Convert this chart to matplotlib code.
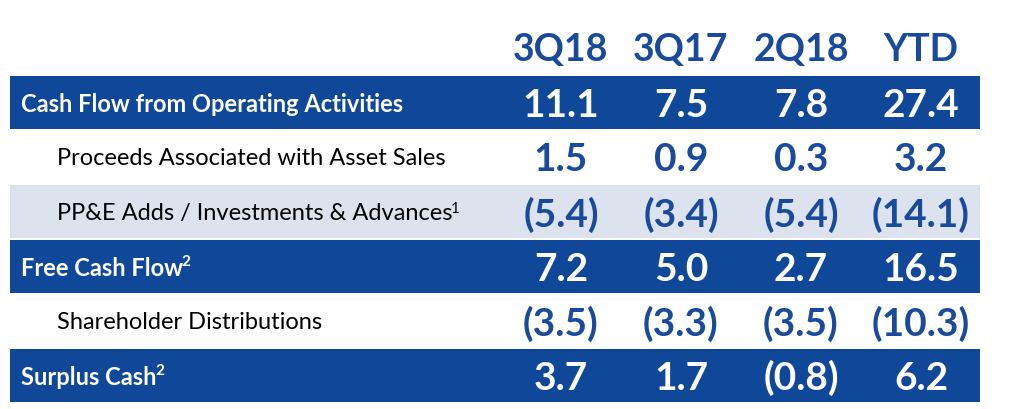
import matplotlib
matplotlib.use('Agg')
import matplotlib.pyplot as plt
from matplotlib.patches import Rectangle

DARK_BLUE = '#0F4799'
LIGHT_ROW = '#DCE3EF'
TEXT_BLUE = '#1A4A9C'

columns = ['3Q18', '3Q17', '2Q18', 'YTD']
row_labels = ['Cash Flow from Operating Activities',
              'Proceeds Associated with Asset Sales',
              'PP&E Adds / Investments & Advances',
              'Free Cash Flow',
              'Shareholder Distributions',
              'Surplus Cash']
footnotes = ['', '', '1', '2', '', '2']
row_styles = ['band', 'plain', 'light', 'band', 'plain', 'band']
cash_flow_ops = ['11.1', '7.5', '7.8', '27.4']
asset_sales = ['1.5', '0.9', '0.3', '3.2']
ppe_adds = ['(5.4)', '(3.4)', '(5.4)', '(14.1)']
free_cash_flow = ['7.2', '5.0', '2.7', '16.5']
distributions = ['(3.5)', '(3.3)', '(3.5)', '(10.3)']
surplus_cash = ['3.7', '1.7', '(0.8)', '6.2']
table_values = [cash_flow_ops, asset_sales, ppe_adds,
                free_cash_flow, distributions, surplus_cash]

FONT = ['Lato', 'DejaVu Sans']
col_x = [561, 681, 801, 921]
left, right = 10, 980
top = 77
step = 54.6

fig = plt.figure(figsize=(10.32, 4.10), dpi=100)
ax = fig.add_axes([0, 0, 1, 1])
ax.set_xlim(0, 1032)
ax.set_ylim(410, 0)
ax.axis('off')

for j, col in enumerate(columns):
    ax.text(col_x[j], 50, col, ha='center', va='center', fontsize=27,
            fontweight='bold', color=TEXT_BLUE, family=FONT)

for i, label in enumerate(row_labels):
    y0 = top + i * step
    yc = y0 + step / 2
    style = row_styles[i]
    if style == 'band':
        ax.add_patch(Rectangle((left, y0), right - left, step - 1.4,
                               facecolor=DARK_BLUE, edgecolor='none'))
        lab = ax.text(21, yc, label, ha='left', va='center', fontsize=17,
                      fontweight='bold', color='white', family=FONT)
        lcolor, lweight = 'white', 'bold'
        vcolor = 'white'
    else:
        if style == 'light':
            ax.add_patch(Rectangle((left, y0), right - left, step - 1.4,
                                   facecolor=LIGHT_ROW, edgecolor='none'))
        lab = ax.text(57, yc, label, ha='left', va='center', fontsize=17,
                      color='black', family=FONT)
        lcolor, lweight = 'black', 'normal'
        vcolor = TEXT_BLUE
    if footnotes[i]:
        ax.annotate(footnotes[i], xy=(1, 1), xycoords=lab,
                    xytext=(-1, 1), textcoords='offset points',
                    ha='left', va='top', fontsize=11, color=lcolor,
                    fontweight=lweight, family=FONT)
    for j, v in enumerate(table_values[i]):
        ax.text(col_x[j], yc + 1, v, ha='center', va='center', fontsize=28,
                fontweight='bold', color=vcolor, family=FONT)

fig.savefig('out.png', dpi=100, facecolor='white')
